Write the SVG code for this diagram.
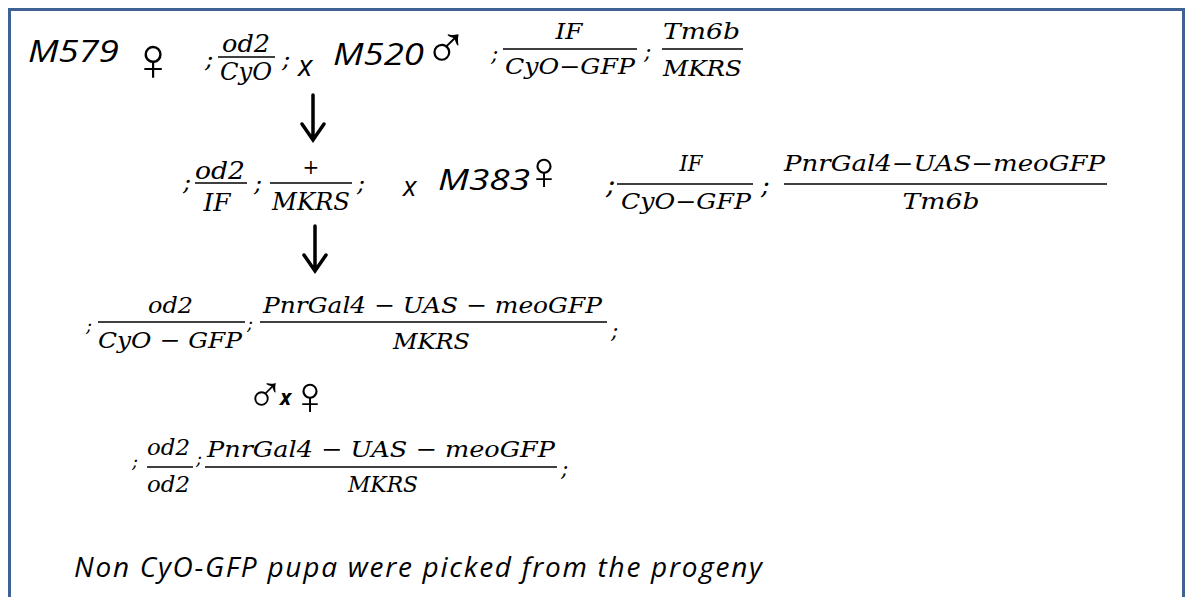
<svg xmlns="http://www.w3.org/2000/svg" width="1187" height="597" viewBox="0 0 1187 597">
<style>
.sans{font-family:"Open Sans","Liberation Sans",sans-serif;font-style:italic;fill:#000}
.m{font-family:"DejaVu Serif","Liberation Serif",serif;font-style:italic;fill:#000}
.up{font-family:"DejaVu Serif","Liberation Serif",serif;fill:#000}
.sym{font-family:"DejaVu Sans",sans-serif;fill:#000;font-weight:200;font-style:normal}
.bar{stroke:#000;stroke-width:1.7}
.arrow{stroke:#000;stroke-width:3.5;fill:none;stroke-linecap:round}
</style>
<defs>
<path id="arrowDown" d="M0,0 V44 M-11,29 L0,45 L11,29"/>
</defs>
<rect x="0" y="0" width="1187" height="597" fill="#fff"/>
<rect x="9.5" y="9.5" width="1174" height="620" fill="none" stroke="#3e6294" stroke-width="3"/>

<g id="parent1">
<text class="sans" x="28" y="62" font-size="31" textLength="91" lengthAdjust="spacingAndGlyphs">M579</text>
<text class="sym" x="153" y="80" font-size="61" text-anchor="middle">♀</text>
<text class="m" x="205" y="67" font-size="25">;</text>
<text class="m" x="246" y="52" font-size="24" text-anchor="middle" textLength="48" lengthAdjust="spacingAndGlyphs">od2</text>
<line class="bar" x1="218" y1="57" x2="275" y2="57"/>
<text class="m" x="246" y="80" font-size="24" text-anchor="middle" textLength="52" lengthAdjust="spacingAndGlyphs">CyO</text>
<text class="m" x="282" y="67" font-size="25">;</text>
</g>

<g id="cross1">
<text class="sans" x="298" y="76" font-size="30">x</text>
</g>

<g id="parent2">
<text class="sans" x="333" y="65" font-size="31" textLength="91" lengthAdjust="spacingAndGlyphs">M520</text>
<text class="sym" x="446" y="68" font-size="60" text-anchor="middle">♂</text>
<text class="m" x="491" y="61" font-size="22">;</text>
<text class="m" x="569" y="39" font-size="22" text-anchor="middle" textLength="27" lengthAdjust="spacingAndGlyphs">IF</text>
<line class="bar" x1="503" y1="49" x2="637" y2="49"/>
<text class="m" x="570" y="74" font-size="22" text-anchor="middle" textLength="130" lengthAdjust="spacingAndGlyphs">CyO−GFP</text>
<text class="m" x="644" y="59" font-size="22">;</text>
<text class="m" x="701.5" y="39" font-size="22" text-anchor="middle" textLength="77" lengthAdjust="spacingAndGlyphs">Tm6b</text>
<line class="bar" x1="662" y1="49" x2="743" y2="49"/>
<text class="m" x="702.5" y="76" font-size="22" text-anchor="middle" textLength="79" lengthAdjust="spacingAndGlyphs">MKRS</text>
</g>

<g id="f1">
<text class="m" x="183" y="190" font-size="24">;</text>
<text class="m" x="220" y="179" font-size="24" text-anchor="middle" textLength="50" lengthAdjust="spacingAndGlyphs">od2</text>
<line class="bar" x1="195" y1="183" x2="247" y2="183"/>
<text class="m" x="217" y="211" font-size="24" text-anchor="middle" textLength="27" lengthAdjust="spacingAndGlyphs">IF</text>
<text class="m" x="254" y="191" font-size="24">;</text>
<text class="up" x="311" y="174" font-size="20" text-anchor="middle">+</text>
<line class="bar" x1="270" y1="183" x2="352" y2="183"/>
<text class="m" x="311" y="210" font-size="24" text-anchor="middle" textLength="78" lengthAdjust="spacingAndGlyphs">MKRS</text>
<text class="m" x="357" y="191" font-size="24">;</text>
</g>

<g id="cross2">
<text class="sans" x="403" y="196" font-size="28">x</text>
</g>

<g id="parent3">
<text class="sans" x="438" y="190" font-size="29" textLength="92" lengthAdjust="spacingAndGlyphs">M383</text>
<text class="sym" x="544" y="189" font-size="54" text-anchor="middle">♀</text>
<text class="m" x="606" y="194" font-size="28">;</text>
<text class="m" x="691" y="171" font-size="22" text-anchor="middle" textLength="23" lengthAdjust="spacingAndGlyphs">IF</text>
<line class="bar" x1="617" y1="184" x2="753" y2="184"/>
<text class="m" x="686" y="209" font-size="22" text-anchor="middle" textLength="130" lengthAdjust="spacingAndGlyphs">CyO−GFP</text>
<text class="m" x="761" y="194" font-size="26">;</text>
<text class="m" x="944.5" y="171" font-size="22" text-anchor="middle" textLength="321" lengthAdjust="spacingAndGlyphs">PnrGal4−UAS−meoGFP</text>
<line class="bar" x1="784" y1="184" x2="1107" y2="184"/>
<text class="m" x="941" y="209" font-size="22" text-anchor="middle" textLength="77" lengthAdjust="spacingAndGlyphs">Tm6b</text>
</g>

<g id="f2">
<text class="m" x="86" y="332" font-size="18">;</text>
<text class="m" x="170.5" y="313" font-size="23" text-anchor="middle" textLength="45" lengthAdjust="spacingAndGlyphs">od2</text>
<line class="bar" x1="98" y1="322" x2="245" y2="322"/>
<text class="m" x="170" y="348" font-size="23" text-anchor="middle" textLength="144" lengthAdjust="spacingAndGlyphs">CyO − GFP</text>
<text class="m" x="247" y="330" font-size="18">;</text>
<text class="m" x="432.5" y="313" font-size="23" text-anchor="middle" textLength="339" lengthAdjust="spacingAndGlyphs">PnrGal4 − UAS − meoGFP</text>
<line class="bar" x1="260" y1="322" x2="607" y2="322"/>
<text class="m" x="431.5" y="349" font-size="23" text-anchor="middle" textLength="77" lengthAdjust="spacingAndGlyphs">MKRS</text>
<text class="m" x="611" y="338" font-size="22">;</text>
</g>

<g id="cross3">
<text><tspan class="sym" x="265" y="412" font-size="51" text-anchor="middle">♂</tspan><tspan class="sans" x="280" y="405" font-size="21" font-weight="bold">x</tspan><tspan class="sym" x="310" y="414" font-size="54" text-anchor="middle">♀</tspan></text>
</g>

<g id="f3">
<text class="m" x="132" y="468" font-size="18">;</text>
<text class="m" x="168.5" y="455" font-size="23" text-anchor="middle" textLength="43" lengthAdjust="spacingAndGlyphs">od2</text>
<line class="bar" x1="147" y1="467" x2="193" y2="467"/>
<text class="m" x="168.5" y="492" font-size="23" text-anchor="middle" textLength="43" lengthAdjust="spacingAndGlyphs">od2</text>
<text class="m" x="196" y="465" font-size="18">;</text>
<text class="m" x="381" y="457" font-size="23" text-anchor="middle" textLength="348" lengthAdjust="spacingAndGlyphs">PnrGal4 − UAS − meoGFP</text>
<line class="bar" x1="205" y1="467" x2="557" y2="467"/>
<text class="m" x="383" y="492" font-size="23" text-anchor="middle" textLength="70" lengthAdjust="spacingAndGlyphs">MKRS</text>
<text class="m" x="561" y="476" font-size="22">;</text>
</g>

<g id="note">
<text class="sans" x="74" y="577" font-size="28" textLength="688">Non CyO-GFP pupa were picked from the progeny</text>
</g>

<g id="connectors">
<use href="#arrowDown" class="arrow" x="313" y="95"/>
<use href="#arrowDown" class="arrow" x="315" y="226"/>
</g>
</svg>
